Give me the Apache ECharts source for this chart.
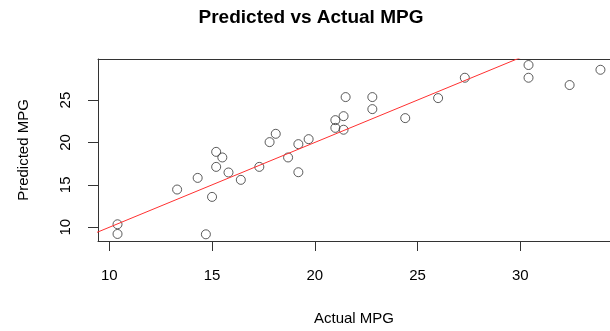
<!DOCTYPE html>
<html>
<head>
<meta charset="utf-8">
<script src="https://cdn.jsdelivr.net/npm/echarts@6/dist/echarts.min.js"></script>
<style>
  html, body { margin: 0; padding: 0; background: #fff; }
  #chart { width: 610px; height: 331px; }
</style>
</head>
<body>
<div id="chart"></div>
<script>
// actual mpg (mtcars) and the model's predictions
let actualMpg = [10.4, 10.4, 13.3, 14.3, 14.7, 15.0, 15.2, 15.2, 15.5, 15.8, 16.4,
  17.3, 17.8, 18.1, 18.7, 19.2, 19.2, 19.7, 21.0, 21.0, 21.4, 21.4, 21.5,
  22.8, 22.8, 24.4, 26.0, 27.3, 30.4, 30.4, 32.4, 33.9];
let predictedMpg = [10.35, 9.21, 14.45, 15.82, 9.17, 13.58, 18.89, 17.12, 18.23, 16.46, 15.59,
  17.12, 20.04, 21.02, 18.23, 19.8, 16.49, 20.39, 22.63, 21.72, 23.1, 21.5, 25.35,
  25.35, 23.93, 22.87, 25.23, 27.63, 29.13, 27.63, 26.77, 28.57];
// reference line y = x
let refLine = [[0, 0], [40, 40]];
let xTicks = [10, 15, 20, 25, 30];
let yTicks = [10, 15, 20, 25];

let font = "Liberation Sans, Arial, sans-serif";
let ink = "#333";
// the plot box runs past the right edge of the picture, so the x range is cut there
let xMin = 9.45;
let xMax = 34.365;

let points = actualMpg.map(function (v, i) {
  return [v, predictedMpg[i]];
});

let chart = echarts.init(document.getElementById("chart"), null, { renderer: "canvas" });

let option = {
  animation: false,
  backgroundColor: "#fff",
  title: {
    text: "Predicted vs Actual MPG",
    left: 306,
    top: 3,
    textAlign: "center",
    textStyle: {
      fontFamily: font,
      fontSize: 19,
      fontWeight: "bold",
      color: "#000",
    },
  },
  grid: {
    left: 98,
    top: 59,
    right: 0,
    bottom: 90,
    show: false,
    containLabel: false,
  },
  xAxis: [
    {
      type: "value",
      min: xMin,
      max: xMax,
      name: "Actual MPG",
      nameLocation: "middle",
      nameGap: 70,
      nameTextStyle: { fontFamily: font, fontSize: 15, color: "#000" },
      axisLine: { show: true, onZero: false, lineStyle: { color: ink } },
      splitLine: { show: false },
      axisTick: {
        show: true,
        length: 10,
        customValues: xTicks,
        lineStyle: { color: ink },
      },
      axisLabel: {
        customValues: xTicks,
        margin: 27,
        fontFamily: font,
        fontSize: 15,
        color: "#000",
      },
    },
    {
      // top side of the box
      type: "value",
      position: "top",
      min: xMin,
      max: xMax,
      axisLine: { show: true, onZero: false, lineStyle: { color: ink } },
      axisTick: { show: false },
      axisLabel: { show: false },
      splitLine: { show: false },
    },
  ],
  yAxis: {
    type: "value",
    min: 8.38,
    max: 29.84,
    name: "Predicted MPG",
    nameLocation: "middle",
    nameGap: 67,
    nameTextStyle: { fontFamily: font, fontSize: 15, color: "#000" },
    axisLine: { show: true, onZero: false, lineStyle: { color: ink } },
    splitLine: { show: false },
    axisTick: {
      show: true,
      length: 10,
      customValues: yTicks,
      lineStyle: { color: ink },
    },
    axisLabel: {
      customValues: yTicks,
      rotate: 90,
      margin: 25,
      fontFamily: font,
      fontSize: 15,
      color: "#000",
    },
  },
  series: [
    {
      type: "scatter",
      data: points,
      symbol: "circle",
      symbolSize: 9,
      itemStyle: {
        color: "rgba(0,0,0,0)",
        borderColor: ink,
        borderWidth: 1,
      },
      z: 2,
    },
    {
      type: "line",
      data: refLine,
      showSymbol: false,
      clip: true,
      lineStyle: { color: "#ff3030", width: 1 },
      z: 3,
    },
  ],
};

chart.setOption(option);
</script>
</body>
</html>
